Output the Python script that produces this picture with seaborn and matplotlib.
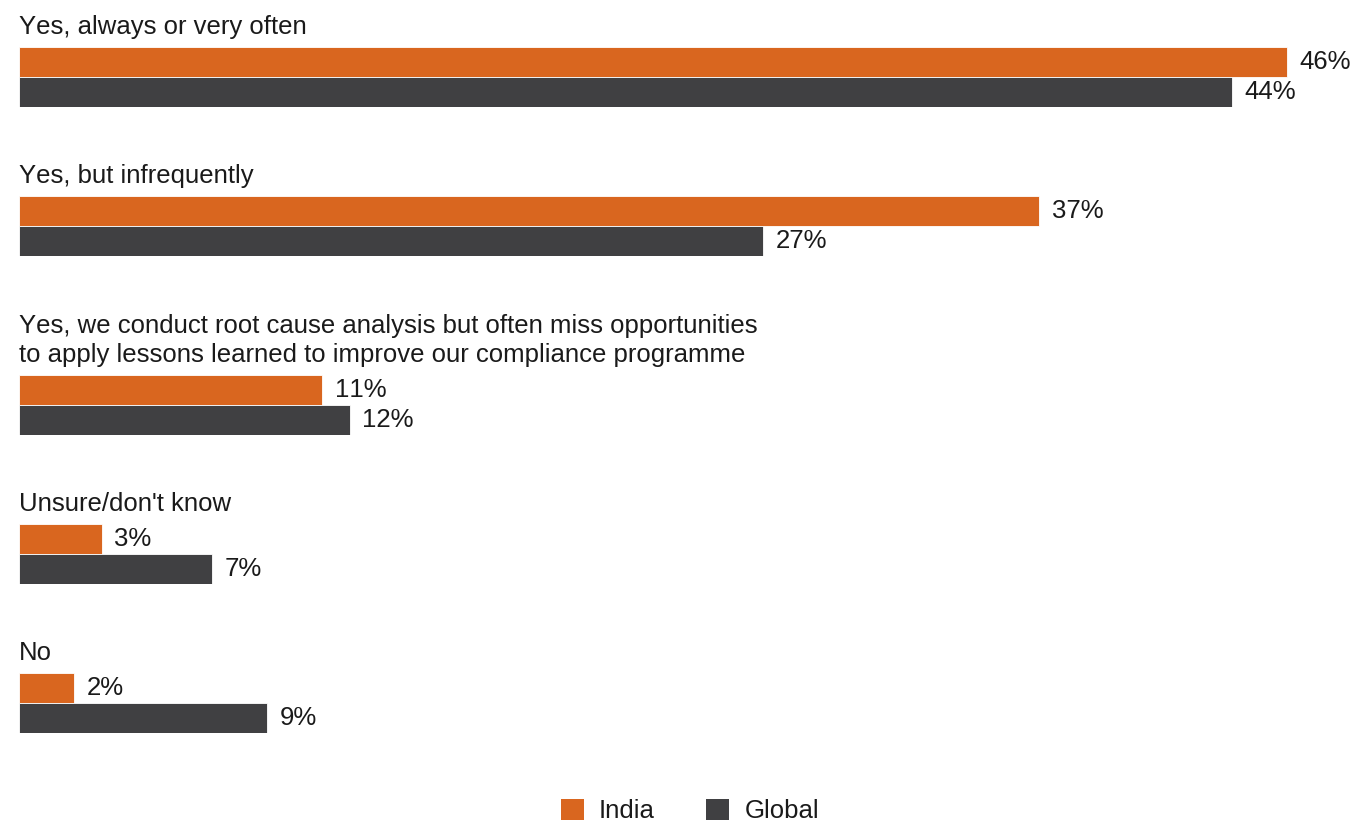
import matplotlib
matplotlib.use("Agg")
import matplotlib.pyplot as plt
from matplotlib.patches import Patch
import pandas as pd
import seaborn as sns

# Survey responses: India vs Global (%)
categories = [
    "Yes, always or very often",
    "Yes, but infrequently",
    "Yes, we conduct root cause analysis but often miss opportunities\n"
    "to apply lessons learned to improve our compliance programme",
    "Unsure/don't know",
    "No",
]
series = ["India", "Global"]
india = [46, 37, 11, 3, 2]
global_vals = [44, 27, 12, 7, 9]
colors = {"India": "#D9661F", "Global": "#404042"}

sns.set_theme(style="white")
plt.rcParams["font.family"] = ["Liberation Sans", "DejaVu Sans"]
plt.rcParams["text.kerning_factor"] = 6
FS = 18.5

W, H = 1357, 822
fig = plt.figure(figsize=(W / 100, H / 100), dpi=100)

left_px = 19
px_per_pct = 27.57
axes_w_px = 1321
group_h_px = 60
gap_px = 89
line_px = 30

top = 47
for i, cat in enumerate(categories):
    if i > 0:
        top += group_h_px + gap_px + line_px * (cat.count("\n"))
    ax = fig.add_axes([left_px / W, 1 - (top + group_h_px) / H,
                       axes_w_px / W, group_h_px / H])
    df = pd.DataFrame({"series": series, "value": [india[i], global_vals[i]]})
    sns.barplot(data=df, x="value", y="series", hue="series",
                palette=colors, order=series, hue_order=series,
                width=1.0, orient="h", legend=False, ax=ax, saturation=1,
                edgecolor="white", linewidth=0.6)
    ax.set_xlim(0, axes_w_px / px_per_pct)
    ax.set_ylim(1.5, -0.5)
    for c in ax.containers:
        ax.bar_label(c, fmt="{:.0f}%", padding=9, fontsize=FS, color="#1a1a1a")
    ax.annotate(cat, xy=(0, 1), xycoords="axes fraction",
                xytext=(0, 13), textcoords="offset pixels",
                ha="left", va="baseline", fontsize=FS, color="#1a1a1a",
                linespacing=1.28)
    ax.set_axis_off()

handles = [Patch(facecolor=colors[s], edgecolor="none", label=s) for s in series]
fig.legend(handles=handles, loc="center", bbox_to_anchor=(690 / W, 1 - 811 / H),
           ncol=2, frameon=False, fontsize=FS, handlelength=0.9,
           handleheight=0.9, handletextpad=0.6, columnspacing=2.0,
           labelcolor="#1a1a1a")

fig.savefig("out.png", dpi=100)
